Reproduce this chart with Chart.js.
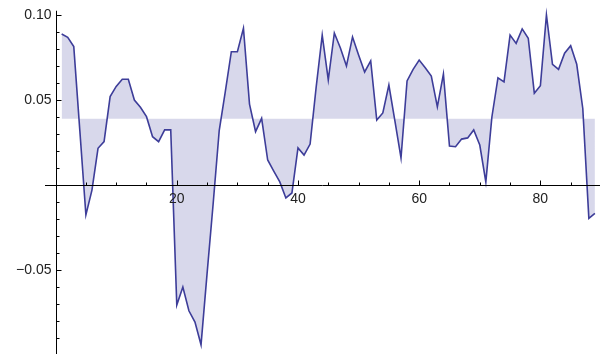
<!DOCTYPE html>
<html>
<head>
<meta charset="utf-8">
<script src="https://cdn.jsdelivr.net/npm/chart.js@4"></script>
<style>
  html, body { margin: 0; padding: 0; background: #ffffff; }
  #wrap { width: 600px; height: 354px; }
</style>
</head>
<body>
<div id="wrap"><canvas id="c" width="600" height="354"></canvas></div>
<script>
// Series values, one per step 1..89
const seriesValues = [
  0.0888, 0.0869, 0.0814, 0.032, -0.0176, -0.003, 0.0216, 0.0255, 0.052, 0.058,
  0.0622, 0.0622, 0.050, 0.0457, 0.0402, 0.0284, 0.0255, 0.0324, 0.0324, -0.0706,
  -0.060, -0.074, -0.0806, -0.094, -0.052, -0.011, 0.032, 0.0548, 0.0784, 0.0784,
  0.0922, 0.0476, 0.0314, 0.0392, 0.0147, 0.0082, 0.0018, -0.0076, -0.0047, 0.0218,
  0.0176, 0.0241, 0.0576, 0.0882, 0.0618, 0.0894, 0.0806, 0.070, 0.0871, 0.0765,
  0.0665, 0.073, 0.0382, 0.0424, 0.0588, 0.0376, 0.0159, 0.0612, 0.068, 0.0735,
  0.069, 0.0641, 0.046, 0.0653, 0.0229, 0.0225, 0.027, 0.0277, 0.0324, 0.0235,
  0.0018, 0.040, 0.063, 0.0606, 0.0882, 0.0833, 0.0918, 0.0863, 0.054, 0.0584,
  0.100, 0.071, 0.068, 0.0775, 0.0819, 0.071, 0.045, -0.0196, -0.0167
];
// Step index for each value
const steps = seriesValues.map((_, i) => i + 1);
// Level the area is filled to
const fillLevel = 0.039;

// Axis ticks
const xMajorTicks = [20, 40, 60, 80];
const xMinorTicks = [5, 10, 15, 25, 30, 35, 45, 50, 55, 65, 70, 75, 85];
const yMajorTicks = [0.10, 0.05, -0.05];
const yMajorLabels = ['0.10', '0.05', '\u22120.05'];
const yMinorTicks = [0.09, 0.08, 0.07, 0.06, 0.04, 0.03, 0.02, 0.01,
                     -0.01, -0.02, -0.03, -0.04, -0.06, -0.07, -0.08, -0.09];

const points = steps.map((x, i) => ({ x: x, y: seriesValues[i] }));

// Axes crossing at the origin, ticks pointing into the plot
const crossAxes = {
  id: 'crossAxes',
  afterDatasetsDraw(chart) {
    const ctx = chart.ctx;
    const xs = chart.scales.x, ys = chart.scales.y;
    const x0 = Math.round(xs.getPixelForValue(0)) + 0.5;
    const y0 = Math.round(ys.getPixelForValue(0)) + 0.5;
    ctx.save();
    ctx.strokeStyle = '#000';
    ctx.lineWidth = 1;
    ctx.beginPath();
    ctx.moveTo(x0, ys.getPixelForValue(0.1025));
    ctx.lineTo(x0, chart.height);
    ctx.moveTo(45, y0);
    ctx.lineTo(chart.width, y0);
    ctx.stroke();

    ctx.beginPath();
    yMajorTicks.forEach(v => {
      const p = Math.round(ys.getPixelForValue(v)) + 0.5;
      ctx.moveTo(x0, p); ctx.lineTo(x0 + 5, p);
    });
    yMinorTicks.forEach(v => {
      const p = Math.round(ys.getPixelForValue(v)) + 0.5;
      ctx.moveTo(x0, p); ctx.lineTo(x0 + 3, p);
    });
    xMajorTicks.forEach(v => {
      const p = Math.round(xs.getPixelForValue(v)) + 0.5;
      ctx.moveTo(p, y0); ctx.lineTo(p, y0 - 5);
    });
    xMinorTicks.forEach(v => {
      const p = Math.round(xs.getPixelForValue(v)) + 0.5;
      ctx.moveTo(p, y0); ctx.lineTo(p, y0 - 3);
    });
    ctx.stroke();

    ctx.fillStyle = '#222';
    ctx.font = '14px "Liberation Sans", Arial, sans-serif';
    ctx.textAlign = 'right';
    ctx.textBaseline = 'middle';
    yMajorTicks.forEach((v, i) => {
      ctx.fillText(yMajorLabels[i], x0 - 5, ys.getPixelForValue(v));
    });
    ctx.textAlign = 'center';
    ctx.textBaseline = 'top';
    xMajorTicks.forEach(v => {
      ctx.fillText(String(v), xs.getPixelForValue(v), y0 + 7);
    });
    ctx.restore();
  }
};

new Chart(document.getElementById('c'), {
  type: 'line',
  data: {
    datasets: [{
      data: points,
      borderColor: '#3d3d99',
      borderWidth: 1.6,
      backgroundColor: 'rgba(61,61,153,0.2)',
      fill: { value: fillLevel },
      pointRadius: 0,
      tension: 0
    }]
  },
  options: {
    responsive: false,
    animation: false,
    layout: { padding: 0 },
    plugins: { legend: { display: false }, tooltip: { enabled: false } },
    scales: {
      x: { type: 'linear', display: false, min: -9.175, max: 89.84 },
      y: { type: 'linear', display: false, min: -0.09941, max: 0.10882 }
    }
  },
  plugins: [crossAxes]
});
</script>
</body>
</html>
